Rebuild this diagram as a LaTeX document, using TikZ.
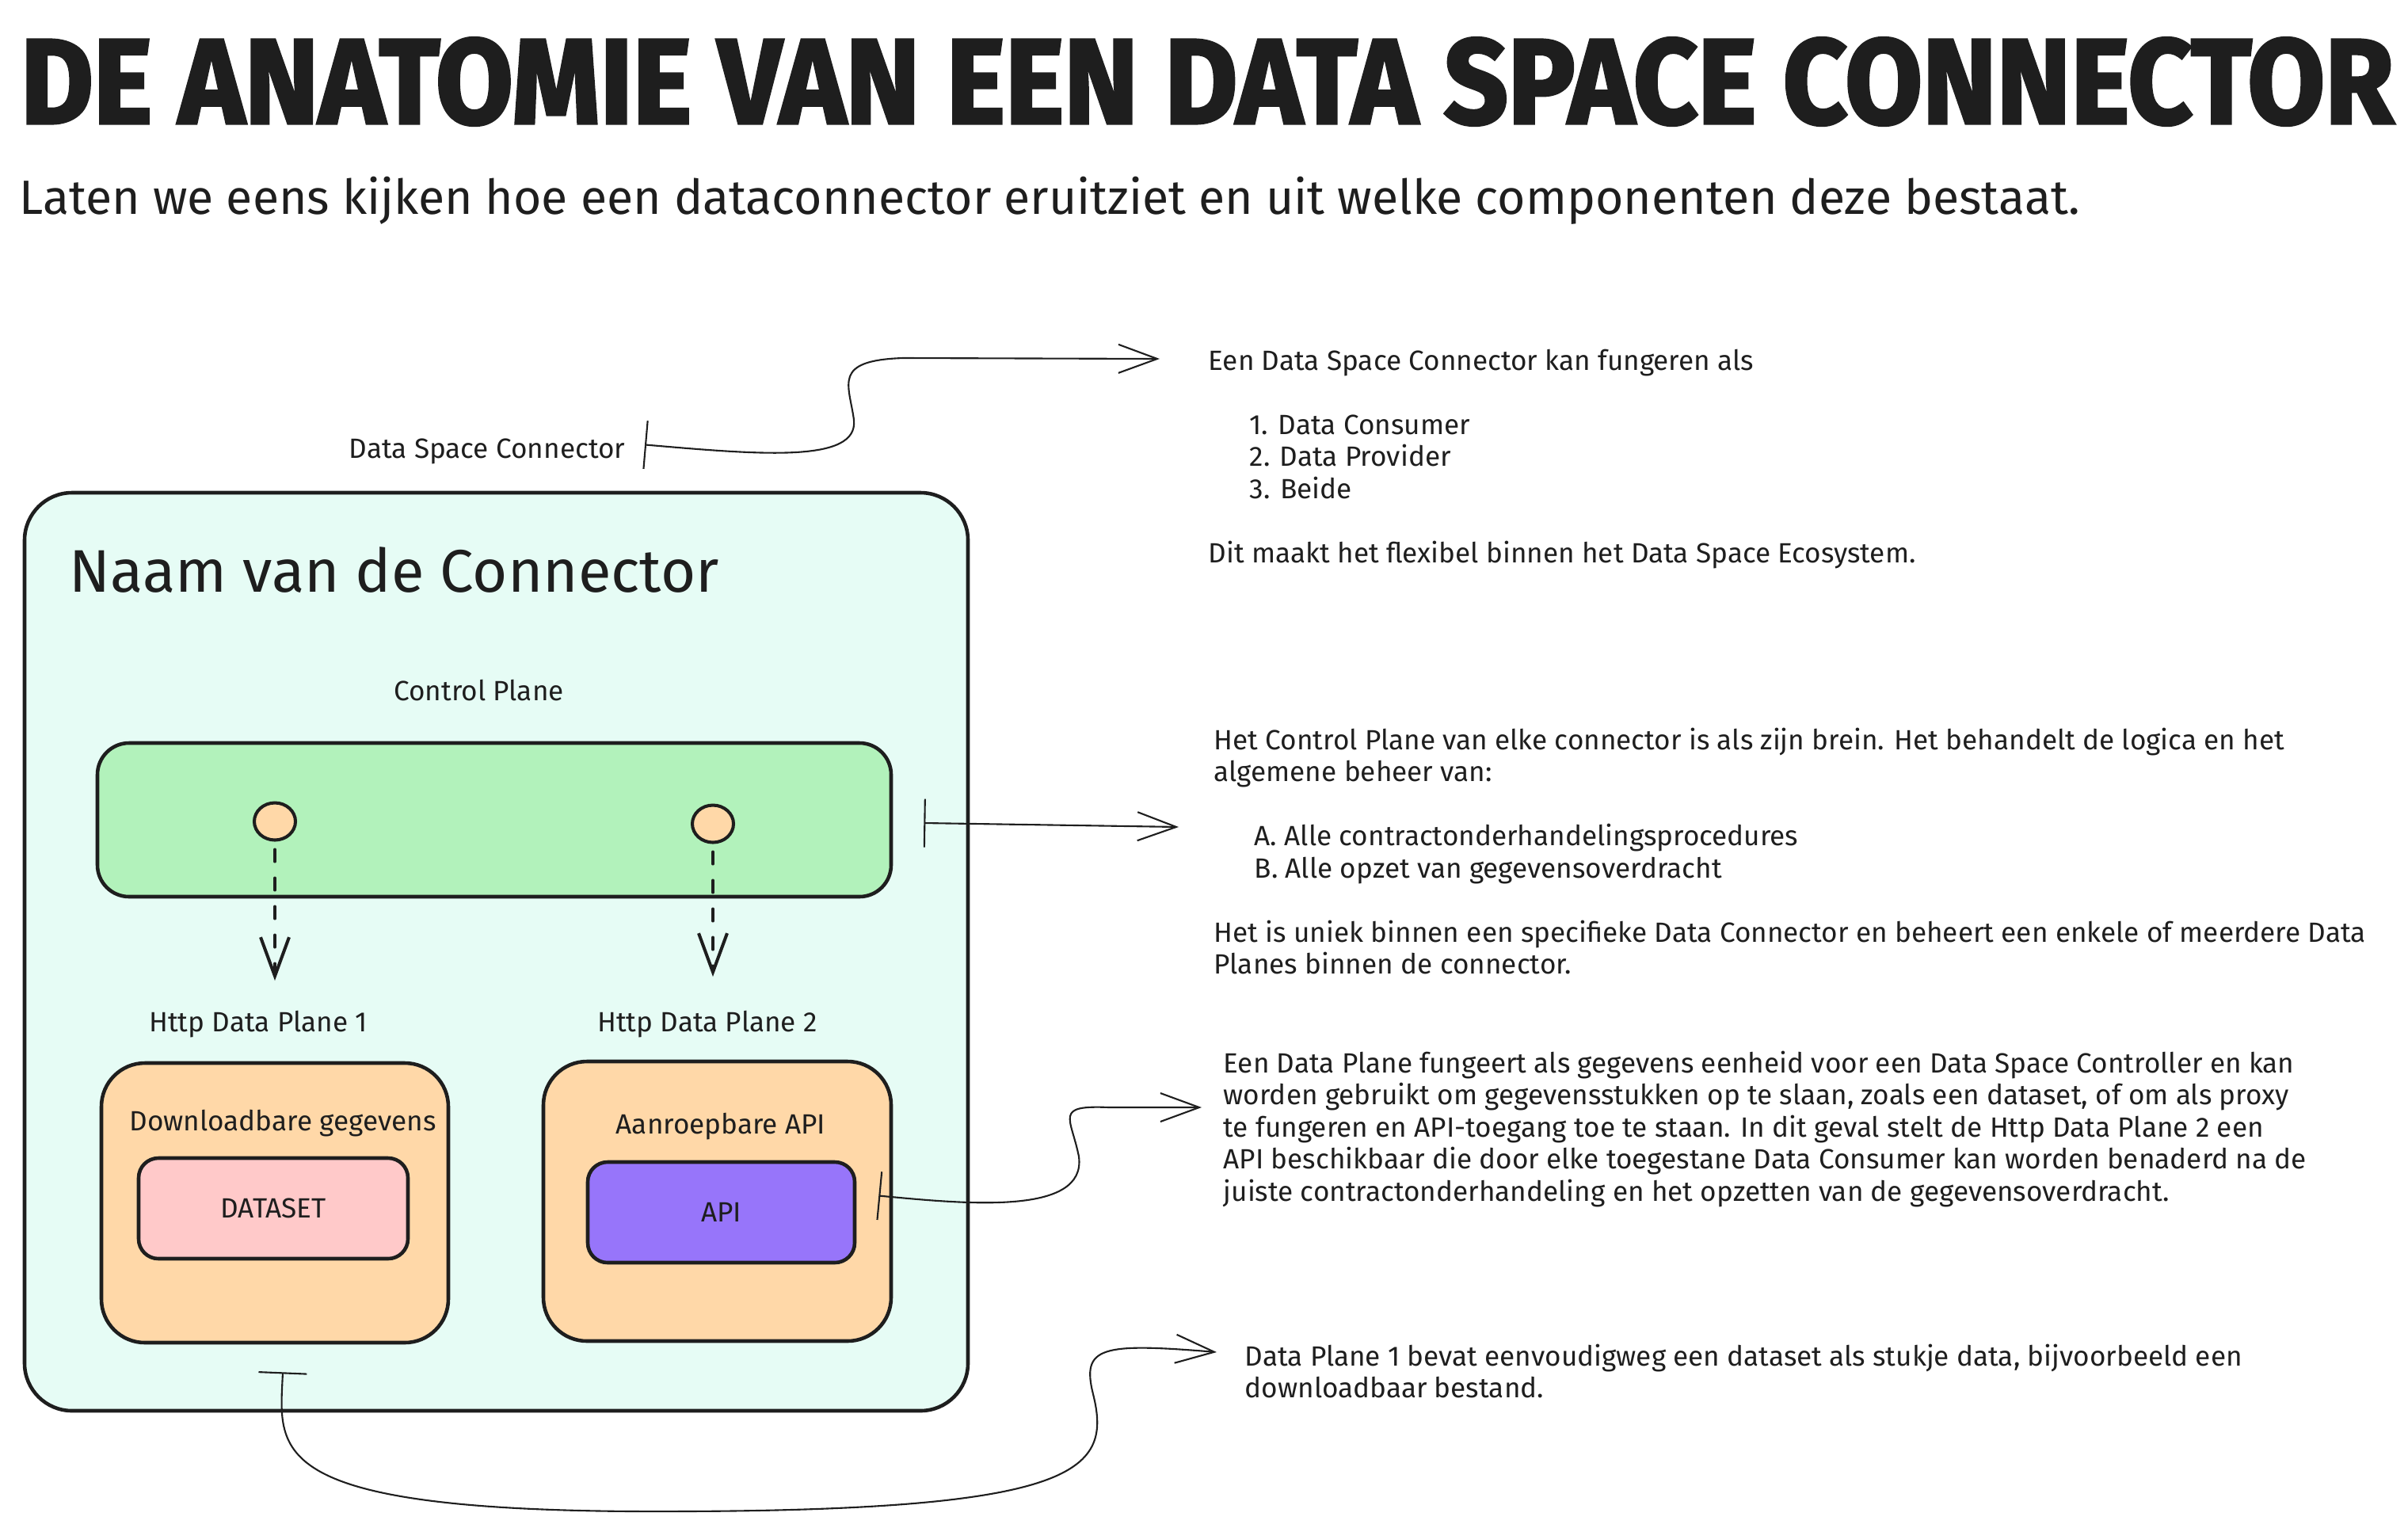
\documentclass[tikz,border=0pt]{standalone}
\usepackage{fontspec}
\usepackage{graphicx}
\setmainfont{Fira Sans}
\newfontfamily\titlefont{Fira Sans}[FakeBold=2.5]
\usetikzlibrary{arrows.meta, shapes.geometric}

\definecolor{ink}{HTML}{1E1E1E}
\definecolor{mint}{HTML}{E6FCF5}
\definecolor{leaf}{HTML}{B2F2BB}
\definecolor{peach}{HTML}{FFD8A8}
\definecolor{rose}{HTML}{FFC9C9}
\definecolor{lilac}{HTML}{9775FA}

\begin{document}
\begin{tikzpicture}[
	box/.style={rectangle, rounded corners=#1, draw=ink, line width=1.3pt, inner sep=0pt,
		text=ink, font=\fontsize{10}{11.52}\selectfont},
	box/.default=0.55cm,
	lbl/.style={inner sep=0pt, text=ink, font=\fontsize{10}{11.52}\selectfont},
	info/.style={lbl, anchor=north west, align=left},
	dot/.style={ellipse, draw=ink, fill=peach, line width=1.15pt, minimum width=0.52cm,
		minimum height=0.47cm, inner sep=0pt},
	flow/.style={draw=ink, line width=1.15pt, line cap=round, dash pattern=on 0.15cm off 0.21cm,
		-{Straight Barb[length=0.49cm, width=0.36cm]}},
	callout/.style={draw=ink, line width=0.6pt, line cap=round,
		arrows={Bar[width=0.61cm]-Straight Barb[length=0.49cm, width=0.36cm]}}
	]
	\useasboundingbox (0,0) rectangle (30.40,-19.28);

	%% heading
	\node[inner sep=0pt, text=ink] (title) at (15.24,-1.03)
		{\resizebox{29.96cm}{1.08cm}{\titlefont\bfseries DE ANATOMIE VAN EEN DATA SPACE CONNECTOR}};
	\node[lbl, anchor=base west] (sub) at (0.24,-2.70)
		{\resizebox{26.01cm}{!}{Laten we eens kijken hoe een dataconnector eruitziet en uit welke componenten deze bestaat.}};

	%% the connector
	\node[lbl, anchor=base east] (dsc) at (7.90,-5.78) {Data Space Connector};
	\node[box=0.6cm, fill=mint, minimum width=11.91cm, minimum height=11.59cm] (conn) at (6.265,-12.015) {};
	\node[lbl, anchor=base west, font=\fontsize{21.6}{26}\selectfont] (naam) at (0.87,-7.47) {Naam van de Connector};

	\node[lbl, anchor=base] (cpl) at (6.045,-8.84) {Control Plane};
	\node[box=0.4cm, fill=leaf, minimum width=10.02cm, minimum height=1.94cm] (cp) at (6.24,-10.35) {};
	\node[dot] (c1) at (3.47,-10.37) {};
	\node[dot] (c2) at (9.00,-10.40) {};

	\node[lbl, anchor=base] (dp1l) at (3.26,-13.02) {Http Data Plane 1};
	\node[lbl, anchor=base] (dp2l) at (8.93,-13.02) {Http Data Plane 2};

	\node[box, fill=peach, minimum width=4.38cm, minimum height=3.53cm] (dp1) at (3.47,-15.185) {};
	\node[box, fill=peach, minimum width=4.39cm, minimum height=3.53cm] (dp2) at (9.055,-15.165) {};
	\node[lbl, anchor=base] (dp1t) at (3.57,-14.27) {Downloadbare gegevens};
	\node[lbl, anchor=base] (dp2t) at (9.10,-14.31) {Aanroepbare API};

	\node[box=0.25cm, fill=rose, minimum width=3.40cm, minimum height=1.27cm] (ds) at (3.45,-15.255) {DATASET};
	\node[box=0.25cm, fill=lilac, minimum width=3.37cm, minimum height=1.27cm] (api) at (9.105,-15.305) {API};

	%% notes
	\node[info] (t1) at (15.25,-4.40) {Een Data Space Connector kan fungeren als\\[\baselineskip]
		\hspace*{0.52cm}1. Data Consumer\\
		\hspace*{0.52cm}2. Data Provider\\
		\hspace*{0.52cm}3. Beide\\[\baselineskip]
		Dit maakt het flexibel binnen het Data Space Ecosystem.};
	\node[info] (t2) at (15.32,-9.18) {Het Control Plane van elke connector is als zijn brein. Het behandelt de logica en het\\
		algemene beheer van:\\[\baselineskip]
		\hspace*{0.51cm}A. Alle contractonderhandelingsprocedures\\
		\hspace*{0.51cm}B. Alle opzet van gegevensoverdracht\\[\baselineskip]
		Het is uniek binnen een specifieke Data Connector en beheert een enkele of meerdere Data\\
		Planes binnen de connector.};
	\node[info] (t3) at (15.44,-13.26) {Een Data Plane fungeert als gegevens eenheid voor een Data Space Controller en kan\\
		worden gebruikt om gegevensstukken op te slaan, zoals een dataset, of om als proxy\\
		te fungeren en API-toegang toe te staan. In dit geval stelt de Http Data Plane 2 een\\
		API beschikbaar die door elke toegestane Data Consumer kan worden benaderd na de\\
		juiste contractonderhandeling en het opzetten van de gegevensoverdracht.};
	\node[info] (t4) at (15.71,-16.96) {Data Plane 1 bevat eenvoudigweg een dataset als stukje data, bijvoorbeeld een\\
		downloadbaar bestand.};

	%% arrow ends
	\coordinate (e1) at (14.64,-4.53);
	\coordinate (e2) at (14.88,-10.44);
	\coordinate (e3) at (15.17,-13.98);
	\coordinate (e4) at (15.36,-17.07);
	\coordinate (d1) at (3.47,-12.38);
	\coordinate (d2) at (9.00,-12.33);

	\draw[flow] ([yshift=-0.1cm]c1.south) -- (d1);
	\draw[flow] ([yshift=-0.1cm]c2.south) -- (d2);

	\draw[callout] ([shift={(0.24,0.08)}]dsc.east) .. controls (9.6,-5.74) and (10.84,-5.85) .. (10.78,-5.30)
		.. controls (10.72,-4.85) and (10.50,-4.55) .. (11.40,-4.52) -- (e1);
	\draw[callout] ([shift={(0.39,-0.04)}]cp.east) -- (e2);
	\draw[callout] ([shift={(0.28,0.21)}]api.east) .. controls (12.2,-15.2) and (13.72,-15.35) .. (13.62,-14.6)
		.. controls (13.52,-14.1) and (13.3,-13.95) .. (14.0,-13.98) -- (e3);
	\draw[callout] ([shift={(0.10,-0.35)}]dp1.south) .. controls (3.53,-18.3) and (3.3,-19.05) .. (8.0,-19.08)
		.. controls (13.6,-19.1) and (14.05,-18.6) .. (13.8,-17.6)
		.. controls (13.65,-17.0) and (13.9,-16.95) .. (e4);
\end{tikzpicture}
\end{document}
